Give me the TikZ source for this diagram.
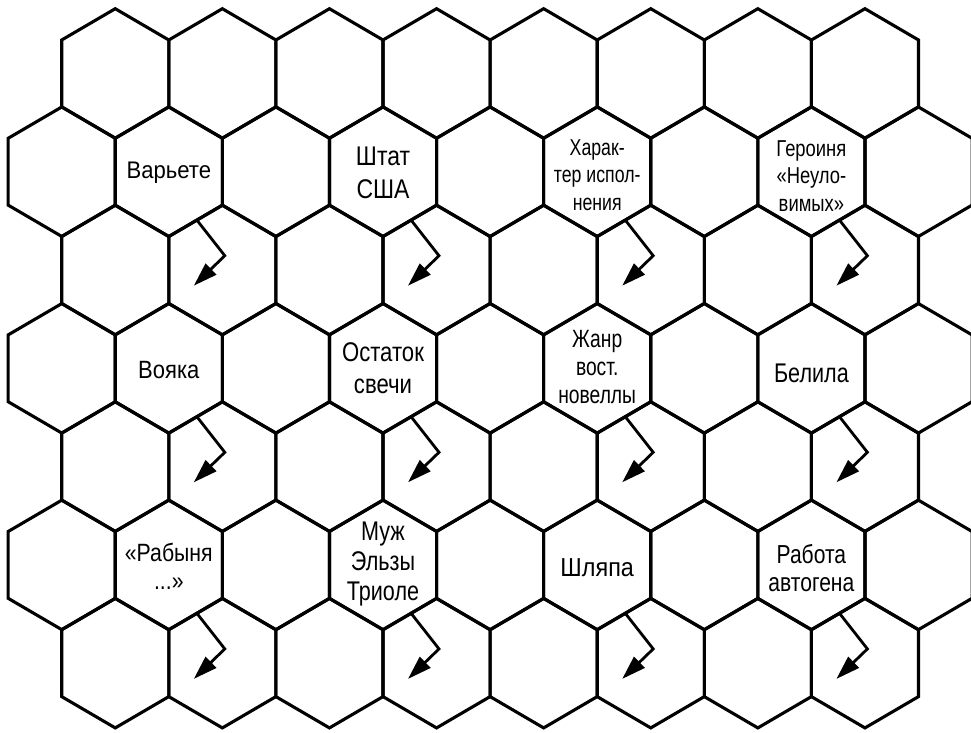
\documentclass[tikz,border=0pt]{standalone}
\usepackage{fontspec}
\setmainfont{Liberation Sans}
\usetikzlibrary{arrows.meta}
\begin{document}
\begin{tikzpicture}[x=1pt,y=-1pt,
  hex/.style={line width=3.1pt, line join=miter},
  pointer/.style={line width=2.8pt, -{Triangle[length=24pt,width=15pt]}},
  lab/.style={inner sep=0pt, align=center}]
\useasboundingbox (0,0) rectangle (971,732);
\fill[white] (0,0) rectangle (971,732);
\foreach \r in {0,...,6}{
  \pgfmathtruncatemacro\odd{mod(\r,2)}
  \ifnum\odd=0 \def\nc{7}\def\xo{115.25}\else\def\nc{8}\def\xo{61.7}\fi
  \foreach \c in {0,...,\nc}{
    \pgfmathsetmacro\cx{\xo+107.1*\c}
    \pgfmathsetmacro\cy{73.4+98.3*\r}
    \coordinate (h-\r-\c) at (\cx,\cy);
    \draw[hex] (h-\r-\c) ++(0,-64.7) -- ++(53.55,31.3) -- ++(0,66.8) -- ++(-53.55,31.3) -- ++(-53.55,-31.3) -- ++(0,-66.8) -- cycle;
  }
}
\foreach \r in {1,3,5}{
  \foreach \c in {1,3,5,7}{
    \draw[pointer] ([shift={(28,48.3)}]h-\r-\c) -- ([shift={(56,84)}]h-\r-\c) -- ([shift={(25,114)}]h-\r-\c);
  }
}
% row 1
\node[lab, font=\fontsize{24}{28}\selectfont, xscale=0.92, anchor=base] (l11) at (168.8,178.3) {Варьете};
\node[lab, font=\fontsize{27}{33.3}\selectfont, xscale=0.85] (l13) at (383,172.5) {Штат\\США};
\node[lab, font=\fontsize{23}{27.5}\selectfont, xscale=0.77] (l15) at (597.2,175) {Харак-\\тер испол-\\нения};
\node[lab, font=\fontsize{23}{27.3}\selectfont, xscale=0.8] (l17) at (811.4,176) {Героиня\\«Неуло-\\вимых»};
% row 3
\node[lab, font=\fontsize{25}{28}\selectfont, xscale=0.88, anchor=base] (l31) at (168.8,378.3) {Вояка};
\node[lab, font=\fontsize{27}{32.3}\selectfont, xscale=0.82] (l33) at (383,368) {Остаток\\свечи};
\node[lab, font=\fontsize{25}{28}\selectfont, xscale=0.77] (l35) at (597.2,367) {Жанр\\вост.\\новеллы};
\node[lab, font=\fontsize{27}{30}\selectfont, xscale=0.8, anchor=base] (l37) at (811.4,382.7) {Белила};
% row 5
\node[lab, font=\fontsize{25}{28.3}\selectfont, xscale=0.85] (l51) at (168.8,566) {«Рабыня\\...»};
\node[lab, font=\fontsize{27}{30}\selectfont, xscale=0.8] (l53) at (383,564) {Муж\\Эльзы\\Триоле};
\node[lab, font=\fontsize{26}{30}\selectfont, xscale=0.9, anchor=base] (l55) at (597.2,576.7) {Шляпа};
\node[lab, font=\fontsize{26}{28.4}\selectfont, xscale=0.81] (l57) at (811.4,568) {Работа\\автогена};
\end{tikzpicture}
\end{document}
